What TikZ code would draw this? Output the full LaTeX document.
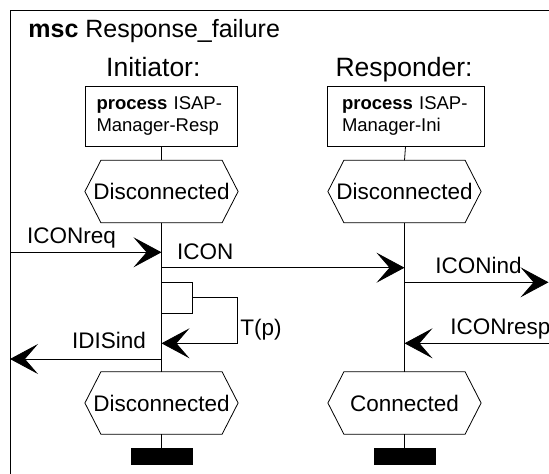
\documentclass[tikz,border=0pt]{standalone}
\usepackage{fontspec}
\setmainfont{Liberation Sans}
\usetikzlibrary{arrows.meta}
\newcommand{\hexdraw}[1]{\draw (#1.west) -- ([xshift=16pt]#1.north west) -- ([xshift=-16pt]#1.north east) -- (#1.east) -- ([xshift=-16pt]#1.south east) -- ([xshift=16pt]#1.south west) -- cycle;}
\begin{document}
\begin{tikzpicture}[x=1pt,y=-1pt,line width=0.8pt,
  msg/.style={-{Stealth[length=28pt,width=30pt,inset=13pt]}},
  lbl/.style={anchor=base west,inner sep=0pt,font=\fontsize{22.5}{26}\selectfont},
  titlelbl/.style={anchor=base west,inner sep=0pt,font=\fontsize{25}{29}\selectfont},
  instlbl/.style={anchor=base,inner sep=0pt,font=\fontsize{26.5}{30}\selectfont},
  procbox/.style={draw,align=left,minimum height=60pt,inner ysep=0pt,font=\fontsize{18.5}{22}\selectfont},
  statenode/.style={minimum width=152.4pt,minimum height=61.6pt,inner sep=0pt,font=\fontsize{22.5}{26}\selectfont},
  stopbar/.style={fill=black,minimum width=62pt,minimum height=17pt,inner sep=0pt},
  timerbox/.style={draw,minimum width=30.5pt,minimum height=31pt,inner sep=0pt}]
\useasboundingbox (0,0) rectangle (549,474);
\clip (0,0) rectangle (549,474);
% frame
\draw (10,480) -- (10,10) -- (560,10);
\node[titlelbl] (title) at (28,37) {\textbf{msc} Response\_failure};
% instances
\node[instlbl] (ini) at (153.3,76) {Initiator:};
\node[instlbl] (res) at (404,76) {Responder:};
\node[procbox,text width=130pt,inner xsep=11pt] (b1) at (161.5,116) {\textbf{process} ISAP-\\Manager-Resp};
\node[procbox,text width=127pt,inner xsep=15pt] (b2) at (405.5,116) {\textbf{process} ISAP-\\Manager-Ini};
\node[statenode] (h1) at (161.5,191.5) {Disconnected};
\node[statenode] (h2) at (404.5,191.5) {Disconnected};
\node[statenode] (h3) at (161.5,403) {Disconnected};
\node[statenode] (h4) at (404.5,403) {Connected};
\hexdraw{h1}\hexdraw{h2}\hexdraw{h3}\hexdraw{h4}
\node[stopbar] (e1) at (161.5,456.5) {};
\node[stopbar] (e2) at (404.5,456.5) {};
% lifelines
\draw (b1.south) -- (h1.north);
\draw (h1.south) -- (h3.north);
\draw (h3.south) -- (e1.north);
\draw (b2.south) -- (h2.north);
\draw (h2.south) -- (h4.north);
\draw (h4.south) -- (e2.north);
% points
\coordinate (envreq) at (10,252.3);
\coordinate (ireq) at (161.5,252.3);
\coordinate (icon) at (161.5,267.7);
\coordinate (ricon) at (404.5,267.7);
\coordinate (rind) at (404.5,282.3);
\coordinate (envind) at (548.5,282.3);
\coordinate (tc1) at (237.5,297.8);
\coordinate (tc2) at (237.5,343.3);
\coordinate (itimeout) at (161.5,343.3);
\coordinate (idis) at (161.5,359);
\coordinate (envdis) at (10,359);
\coordinate (envresp) at (560,343.3);
\coordinate (rresp) at (404.5,343.3);
% messages
\draw[msg] (envreq) -- (ireq);
\node[lbl] (lreq) at (26.7,243.3) {ICONreq};
\draw[msg] (icon) -- (ricon);
\node[lbl] (lcon) at (176.8,259) {ICON};
\draw[msg] (rind) -- (envind);
\node[lbl] (lind) at (435,273.3) {ICONind};
\node[timerbox] (tm) at (176.75,297.8) {};
\draw[msg] (tm.east) -- (tc1) -- (tc2) -- (itimeout);
\node[lbl] (ltm) at (240,335) {T(p)};
\draw[msg] (idis) -- (envdis);
\node[lbl] (ldis) at (71.8,348.3) {IDISind};
\draw[msg] (envresp) -- (rresp);
\node[lbl] (lresp) at (450,334) {ICONresp};
\end{tikzpicture}
\end{document}
